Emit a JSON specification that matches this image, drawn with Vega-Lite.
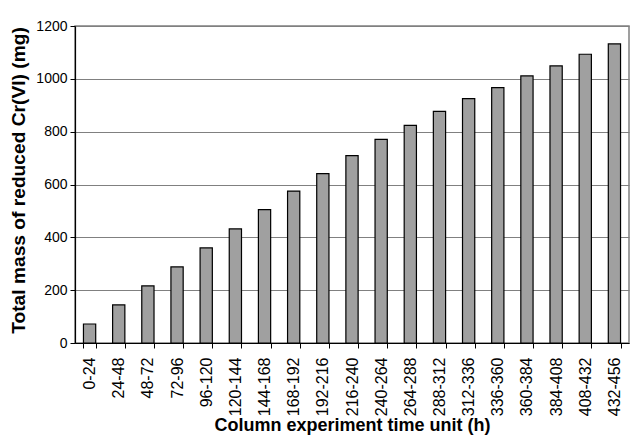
{
  "$schema": "https://vega.github.io/schema/vega-lite/v6.json",
  "width": 554,
  "height": 317,
  "autosize": {"type": "none"},
  "padding": {"left": 75, "top": 26, "right": 2, "bottom": 94},
  "background": "white",
  "config": {
    "font": "Liberation Sans",
    "view": {"stroke": "#808080", "strokeWidth": 1.5}
  },
  "data": {
    "values": [
      {"t": "0-24", "m": 72},
      {"t": "24-48", "m": 144},
      {"t": "48-72", "m": 216},
      {"t": "72-96", "m": 288},
      {"t": "96-120", "m": 360},
      {"t": "120-144", "m": 432},
      {"t": "144-168", "m": 505},
      {"t": "168-192", "m": 575},
      {"t": "192-216", "m": 641},
      {"t": "216-240", "m": 709},
      {"t": "240-264", "m": 771},
      {"t": "264-288", "m": 824},
      {"t": "288-312", "m": 877},
      {"t": "312-336", "m": 925},
      {"t": "336-360", "m": 967},
      {"t": "360-384", "m": 1011},
      {"t": "384-408", "m": 1049},
      {"t": "408-432", "m": 1093},
      {"t": "432-456", "m": 1132}
    ]
  },
  "mark": {"type": "bar", "fill": "#a0a0a0", "stroke": "black", "strokeWidth": 1.2},
  "encoding": {
    "x": {
      "field": "t",
      "type": "ordinal",
      "sort": null,
      "scale": {"paddingInner": 0.58, "paddingOuter": 0.29},
      "axis": {
        "title": "Column experiment time unit (h)",
        "titleFont": "Liberation Sans",
        "titleFontSize": 18,
        "titleFontWeight": "bold",
        "titleColor": "black",
        "titleBaseline": "alphabetic",
        "titleY": 87,
        "labelAngle": -90,
        "labelAlign": "right",
        "labelBaseline": "middle",
        "labelFont": "Liberation Sans",
        "labelFontSize": 16,
        "labelColor": "black",
        "labelPadding": 9,
        "tickBand": "extent",
        "tickSize": 5,
        "tickColor": "black",
        "domainColor": "black",
        "domainWidth": 1.2
      }
    },
    "y": {
      "field": "m",
      "type": "quantitative",
      "scale": {"domain": [0, 1200], "nice": false},
      "axis": {
        "title": "Total mass of reduced Cr(VI) (mg)",
        "titleFont": "Liberation Sans",
        "titleFontSize": 19.2,
        "titleFontWeight": "bold",
        "titleColor": "black",
        "titleX": -57,
        "titleY": 154,
        "titleAngle": -90,
        "titleAlign": "center",
        "titleBaseline": "middle",
        "values": [0, 200, 400, 600, 800, 1000, 1200],
        "format": "d",
        "labelFont": "Liberation Sans",
        "labelFontSize": 14,
        "labelColor": "black",
        "labelPadding": 3,
        "tickSize": 5,
        "tickColor": "black",
        "domainColor": "black",
        "domainWidth": 1.2,
        "grid": true,
        "gridColor": "#808080",
        "gridWidth": 1.2
      }
    }
  }
}
